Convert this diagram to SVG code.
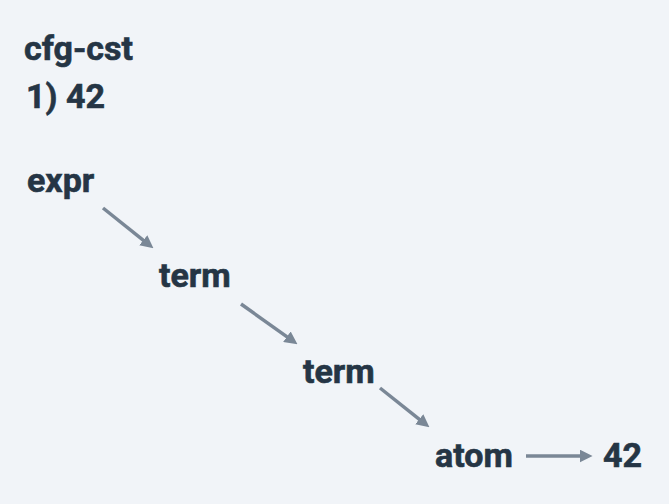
<svg xmlns="http://www.w3.org/2000/svg" width="669" height="504" viewBox="0 0 669 504">
  <style>
    .lbl { font-family: Roboto, "Liberation Sans", sans-serif; font-weight: 700; font-size: 34px; fill: #253545; stroke: #253545; stroke-width: 0.6px; }
    .edge { stroke: #7a8796; stroke-width: 3.5; fill: none; marker-end: url(#arrow); }
  </style>
  <defs>
    <marker id="arrow" markerUnits="userSpaceOnUse" markerWidth="13" markerHeight="13" viewBox="0 0 12 12" refX="5" refY="6" orient="auto">
      <path d="M0,0 L12,6 L0,12 z" fill="#7a8796"/>
    </marker>
  </defs>
  <rect width="669" height="504" fill="#f1f4f8"/>
  <g id="title">
    <text class="lbl" x="24" y="60">cfg-cst</text>
    <text class="lbl" x="26" y="108">1) 42</text>
  </g>
  <g id="node-expr"><text class="lbl" x="27" y="192">expr</text></g>
  <g id="node-term1"><text class="lbl" x="159" y="287">term</text></g>
  <g id="node-term2"><text class="lbl" x="303" y="383">term</text></g>
  <g id="node-atom"><text class="lbl" x="435" y="467">atom</text></g>
  <g id="node-42"><text class="lbl" x="603" y="467">42</text></g>
  <g id="connectors">
    <path class="edge" d="M103,208 L147.5,243.6"/>
    <path class="edge" d="M241,304 L291.3,339.9"/>
    <path class="edge" d="M380,388 L423.5,422.6"/>
    <path class="edge" d="M526,456 L585,456"/>
  </g>
</svg>
